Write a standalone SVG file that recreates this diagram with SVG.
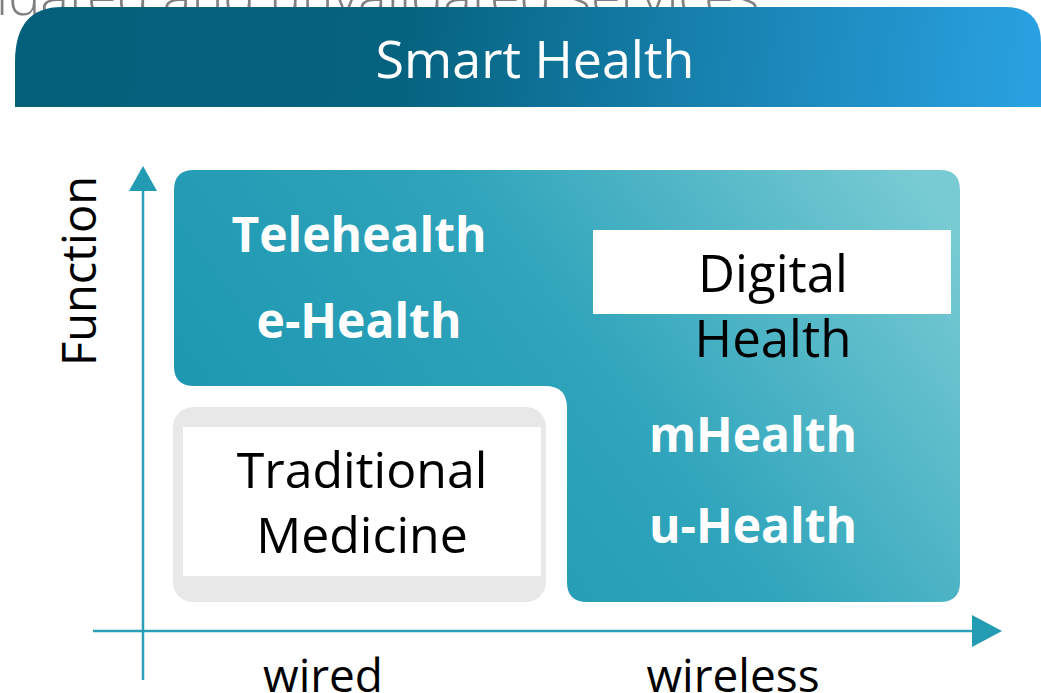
<svg xmlns="http://www.w3.org/2000/svg" width="1041" height="693" viewBox="0 0 1041 693">
<defs>
<linearGradient id="hdr" gradientUnits="userSpaceOnUse" x1="15" y1="7" x2="1041" y2="107">
<stop offset="0" stop-color="#045f7a"/>
<stop offset="0.38" stop-color="#066380"/>
<stop offset="1" stop-color="#2aa2e2"/>
</linearGradient>
<linearGradient id="teal" gradientUnits="userSpaceOnUse" x1="300" y1="600" x2="900" y2="150">
<stop offset="0" stop-color="#1c96b0"/>
<stop offset="0.5" stop-color="#2fa4bb"/>
<stop offset="1" stop-color="#78cbd3"/>
</linearGradient>
<style>
.bg{font-family:"Open Sans","Noto Sans",sans-serif;font-weight:300;fill:#808080}
.title{font-family:"Open Sans","Noto Sans",sans-serif;fill:#ffffff;text-anchor:middle}
.wl{font-family:"Open Sans","Noto Sans",sans-serif;font-weight:700;fill:#ffffff;text-anchor:middle}
.bl{font-family:"Open Sans","Noto Sans",sans-serif;fill:#000000;text-anchor:middle}
.axis{stroke:#2a9fb7;stroke-width:2.5;fill:none}
.ahd{fill:#239bb3}
</style>
</defs>
<text class="bg" x="-4" y="15" font-size="54">idated and unvalidated services</text>
<g id="header">
<path d="M15,107 V62 Q15,7 62,7 H1005 Q1041,7 1041,43 V107 Z" fill="url(#hdr)"/>
<text class="title" x="535" y="78" font-size="52">Smart Health</text>
</g>
<g id="connectors">
<line class="axis" x1="143" y1="185" x2="143" y2="680"/>
<polygon class="ahd" points="143,166 157,191 129,191"/>
<line class="axis" x1="93" y1="631" x2="978" y2="631"/>
<polygon class="ahd" points="1002,631 972,615 972,647"/>
</g>
<g id="smart-region">
<path d="M194,170 H940 Q960,170 960,190 V582 Q960,602 940,602 H587 Q567,602 567,582 V408 Q567,386 545,386 H194 Q174,386 174,366 V190 Q174,170 194,170 Z" fill="url(#teal)"/>
<text class="wl" x="359" y="252" font-size="48">Telehealth</text>
<text class="wl" x="359" y="338" font-size="48">e-Health</text>
<text class="wl" x="753" y="452" font-size="48">mHealth</text>
<text class="wl" x="753" y="543" font-size="48">u-Health</text>
</g>
<g id="digital-health">
<rect x="593" y="230" width="358" height="84" fill="#ffffff"/>
<text class="bl" x="773" y="292" font-size="51">Digital</text>
<text class="bl" x="773" y="357" font-size="51">Health</text>
</g>
<g id="traditional-medicine">
<rect x="173" y="407" width="373" height="195" rx="20" fill="#e8e8e8"/>
<rect x="183" y="427" width="358" height="149" fill="#ffffff"/>
<text class="bl" x="362" y="488" font-size="50">Traditional</text>
<text class="bl" x="362" y="553" font-size="50">Medicine</text>
</g>
<g id="labels">
<text class="bl" transform="translate(96,271) rotate(-90)" font-size="47">Function</text>
<text class="bl" x="323" y="692" font-size="46">wired</text>
<text class="bl" x="733" y="692" font-size="46">wireless</text>
</g>
</svg>
